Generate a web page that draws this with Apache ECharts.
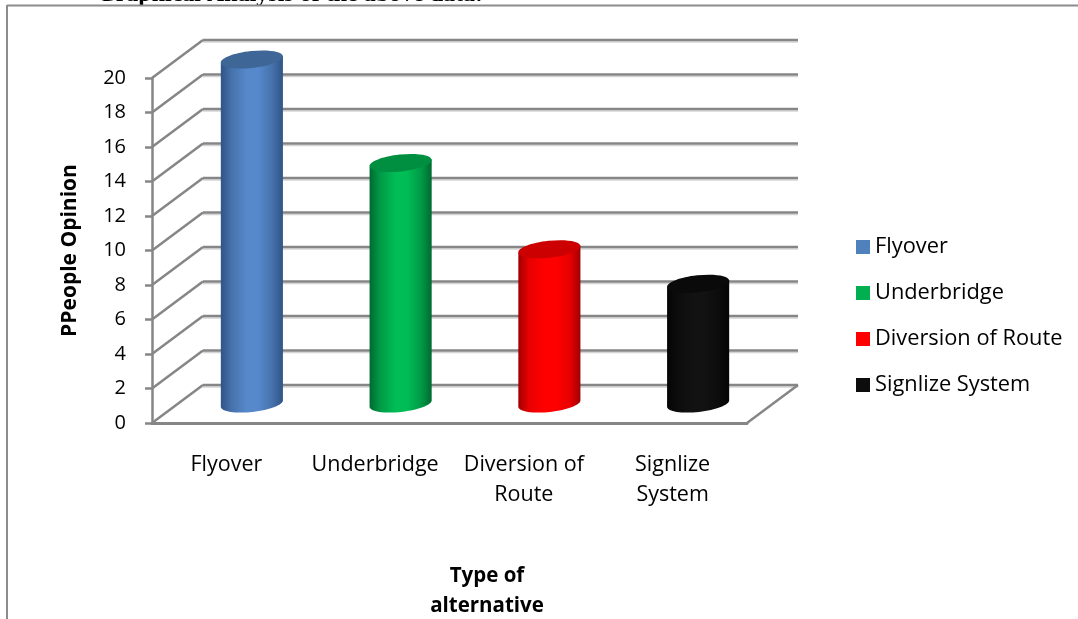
<!DOCTYPE html>
<html>
<head>
<meta charset="utf-8">
<style>html,body{margin:0;padding:0;background:#fff}#chart{width:1078px;height:619px}</style>
<script src="https://cdn.jsdelivr.net/npm/echarts@6/dist/echarts.min.js"></script>
</head>
<body>
<div id="chart"></div>
<script>
// Survey results: preferred traffic alternative
const categories = ['Flyover', 'Underbridge', 'Diversion of\nRoute', 'Signlize\nSystem'];
const seriesNames = ['Flyover', 'Underbridge', 'Diversion of Route', 'Signlize System'];
const opinionCounts = [20, 14, 9, 7];
const yTicks = [0, 2, 4, 6, 8, 10, 12, 14, 16, 18, 20];

// Fill colours: [legend, edge shade, mid shade, centre highlight, top cap]
const palette = [
  ['#4f81bd', '#2f5487', '#4672ab', '#5688cc', '#3e6696'],
  ['#00b050', '#006a30', '#009a46', '#00bd56', '#008f41'],
  ['#ff0000', '#a00000', '#e80000', '#ff0000', '#cc0000'],
  ['#0d0d0d', '#050505', '#0c0c0c', '#121212', '#0a0a0a']
];

// Oblique projection of the chart box
const DEPTH_X = 51, DEPTH_Y = -38;
const GRID_COLOR = '#868686', GRID_SHADE = '#d4d4d4';
const TILT = -0.11;

function seg(x1, y1, x2, y2, color, width) {
  return { type: 'line', shape: { x1, y1, x2, y2 }, style: { stroke: color, lineWidth: width, fill: null }, silent: true };
}

// Back wall gridline plus the side-wall line that joins it to the front axis
function renderWall(params, api) {
  const v = api.value(1);
  const g = params.coordSys;
  const y = api.coord([0, v])[1];
  const left = g.x, right = g.x + g.width;
  const kids = [
    seg(left + DEPTH_X, y + DEPTH_Y + 2, right + DEPTH_X, y + DEPTH_Y + 2, GRID_SHADE, 1.5),
    seg(left + DEPTH_X, y + DEPTH_Y, right + DEPTH_X, y + DEPTH_Y, GRID_COLOR, 2.5),
    seg(left, y, left + DEPTH_X, y + DEPTH_Y, GRID_COLOR, 2.5)
  ];
  if (v === 0) kids.push(seg(right, y, right + DEPTH_X, y + DEPTH_Y, GRID_COLOR, 2.5));
  return { type: 'group', children: kids };
}

function ellipsePoint(cx, cy, rx, ry, t) {
  const c = Math.cos(TILT), s = Math.sin(TILT);
  const ex = rx * Math.cos(t), ey = ry * Math.sin(t);
  return [cx + ex * c - ey * s, cy + ex * s + ey * c];
}

// Cylinder standing halfway into the box depth
function makeCylinder(idx) {
  return function (params, api) {
    const base = api.coord([api.value(0), 0]);
    const top = api.coord([api.value(0), api.value(1)]);
    const band = api.size([1, 0])[0];
    const cx = base[0] + DEPTH_X / 2;
    const rx = band * 0.21, ry = 8.5;
    const yBase = base[1] + DEPTH_Y / 2 - 0.5;
    const yTop = top[1] + DEPTH_Y / 2 + 0.5;
    const pts = [ellipsePoint(cx, yTop, rx, ry, Math.PI)];
    for (let i = 0; i <= 32; i++) {
      pts.push(ellipsePoint(cx, yBase, rx, ry, Math.PI - i * Math.PI / 32));
    }
    pts.push(ellipsePoint(cx, yTop, rx, ry, 0));
    const col = palette[idx];
    return {
      type: 'group',
      children: [
        {
          type: 'polygon',
          shape: { points: pts },
          style: {
            fill: {
              type: 'linear', x: 0, y: 0, x2: 1, y2: 0,
              colorStops: [
                { offset: 0, color: col[1] },
                { offset: 0.17, color: col[2] },
                { offset: 0.42, color: col[3] },
                { offset: 0.6, color: col[3] },
                { offset: 0.83, color: col[2] },
                { offset: 1, color: col[1] }
              ]
            }
          }
        },
        {
          type: 'ellipse',
          shape: { cx: 0, cy: 0, rx, ry },
          x: cx, y: yTop, rotation: -TILT,
          style: { fill: col[4] }
        }
      ]
    };
  };
}

const labelFont = '"Open Sans", "Noto Sans", sans-serif';

const cylinderSeries = seriesNames.map((name, i) => ({
  name,
  type: 'custom',
  coordinateSystem: 'cartesian2d',
  renderItem: makeCylinder(i),
  itemStyle: { color: palette[i][0] },
  encode: { x: 0, y: 1 },
  z: 5,
  data: [[i, opinionCounts[i]]]
}));

const chart = echarts.init(document.getElementById('chart'), null, { renderer: 'canvas' });
chart.setOption({
  animation: false,
  backgroundColor: '#ffffff',
  title: [
    {
      text: 'Graphical Analysis of the above data:',
      left: 92, top: -22.5,
      textStyle: { fontFamily: '"Liberation Serif", serif', fontWeight: 'bold', fontSize: 24, color: '#000' }
    },
    {
      text: 'Type of\nalternative',
      left: 482, top: 556, textAlign: 'center',
      textStyle: { fontFamily: labelFont, fontWeight: 'bold', fontSize: 20.5, lineHeight: 30, color: '#000' }
    }
  ],
  legend: {
    orient: 'vertical',
    left: 856, top: 236, padding: 0,
    itemWidth: 14, itemHeight: 14, itemGap: 24,
    icon: 'rect',
    data: seriesNames,
    textStyle: { fontFamily: labelFont, fontSize: 21.8, color: '#000' }
  },
  grid: { left: 152, top: 78, width: 595, height: 345 },
  xAxis: {
    type: 'category',
    data: categories,
    axisLine: { lineStyle: { color: GRID_COLOR, width: 3 } },
    axisTick: { show: false },
    axisLabel: { interval: 0, fontFamily: labelFont, fontSize: 21.5, color: '#000', lineHeight: 30, margin: 27 }
  },
  yAxis: {
    type: 'value',
    min: 0, max: 20, interval: 2,
    name: 'PPeople Opinion',
    nameLocation: 'middle',
    nameRotate: 90,
    nameGap: 71,
    nameTextStyle: { fontFamily: labelFont, fontWeight: 'bold', fontSize: 21, color: '#000' },
    splitLine: { show: false },
    axisLine: { show: true, lineStyle: { color: GRID_COLOR, width: 2.5 } },
    axisTick: { show: true, length: 7, lineStyle: { color: GRID_COLOR, width: 2.5 } },
    axisLabel: { fontFamily: labelFont, fontSize: 20, color: '#000', margin: 26 }
  },
  graphic: [
    { type: 'line', shape: { x1: 7, y1: 5.5, x2: 1078, y2: 5.5 }, style: { stroke: '#8c8c8c', lineWidth: 2 }, z: 10 },
    { type: 'line', shape: { x1: 7, y1: 5, x2: 7, y2: 619 }, style: { stroke: '#8c8c8c', lineWidth: 2 }, z: 10 }
  ],
  series: [
    {
      name: 'walls',
      type: 'custom',
      coordinateSystem: 'cartesian2d',
      renderItem: renderWall,
      encode: { x: 0, y: 1 },
      silent: true,
      z: 1,
      data: yTicks.map(v => [0, v])
    }
  ].concat(cylinderSeries)
});
</script>
</body>
</html>
